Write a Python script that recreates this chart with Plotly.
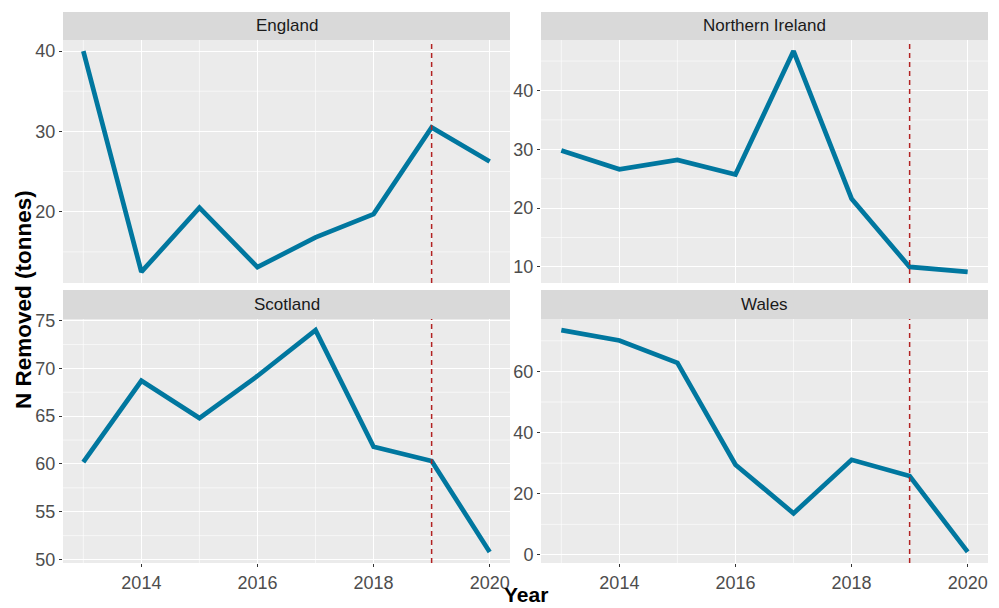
import plotly.graph_objects as go

years = [2013, 2014, 2015, 2016, 2017, 2018, 2019, 2020]
regions = ["England", "Northern Ireland", "Scotland", "Wales"]
england = [40.0, 12.5, 20.5, 13.1, 16.8, 19.7, 30.5, 26.25]
northern_ireland = [29.8, 26.6, 28.2, 25.7, 46.7, 21.6, 10.0, 9.15]
scotland = [60.2, 68.7, 64.8, 69.2, 74.0, 61.8, 60.3, 50.8]
wales = [73.5, 70.1, 62.8, 29.5, 13.6, 31.1, 25.8, 1.0]
series = [england, northern_ireland, scotland, wales]

y_major = [[20, 30, 40], [10, 20, 30, 40], [50, 55, 60, 65, 70, 75], [0, 20, 40, 60]]
y_minor = [[15, 25, 35], [15, 25, 35, 45], [52.5, 57.5, 62.5, 67.5, 72.5], [10, 30, 50, 70]]
x_major = [2014, 2016, 2018, 2020]
x_minor = [2013, 2015, 2017, 2019]
cutoff_year = 2019

W, H = 999, 608
cols = [(63, 510), (541, 988)]
rows = [(40, 283), (319, 563)]
strips = [(12, 40), (290, 319)]

FONT = "Liberation Sans, Arial, Helvetica, sans-serif"
fig = go.Figure()

xr = [min(years) - 0.05 * (max(years) - min(years)), max(years) + 0.05 * (max(years) - min(years))]

for i, (name, vals) in enumerate(zip(regions, series)):
    r, c = divmod(i, 2)
    ax = "" if i == 0 else str(i + 1)
    xa, ya = "x" + ax, "y" + ax
    fig.add_trace(go.Scatter(x=years, y=vals, mode="lines", xaxis=xa, yaxis=ya,
                             line=dict(color="#00779F", width=4.7), showlegend=False))
    lo, hi = min(vals), max(vals)
    pad = 0.05 * (hi - lo)
    l, rr = cols[c]
    t, b = rows[r]
    xdom = [l / W, rr / W]
    ydom = [1 - b / H, 1 - t / H]
    fig.layout["xaxis" + ax] = dict(
        domain=xdom, range=xr, anchor=ya, tickmode="array", tickvals=x_major,
        ticktext=[str(v) for v in x_major], automargin=False,
        showticklabels=(r == 1), ticks="outside" if r == 1 else "", ticklen=3,
        tickcolor="#333333", tickfont=dict(size=18, color="#4D4D4D", family=FONT),
        showgrid=True, gridcolor="white", gridwidth=1.3, zeroline=False, showline=False,
        fixedrange=True)
    fig.layout["yaxis" + ax] = dict(
        domain=ydom, range=[lo - pad, hi + pad], anchor=xa, tickmode="array",
        tickvals=y_major[i], ticktext=[str(v) for v in y_major[i]], automargin=False,
        ticks="outside", ticklen=3, tickcolor="#333333",
        tickfont=dict(size=18, color="#4D4D4D", family=FONT),
        showgrid=True, gridcolor="white", gridwidth=1.3, zeroline=False, showline=False,
        fixedrange=True)
    # minor gridlines
    for v in y_minor[i]:
        fig.add_shape(type="line", xref=xa + " domain", yref=ya, x0=0, x1=1, y0=v, y1=v,
                      line=dict(color="white", width=0.6), layer="below")
    for v in x_minor:
        fig.add_shape(type="line", xref=xa, yref=ya + " domain", x0=v, x1=v, y0=0, y1=1,
                      line=dict(color="white", width=0.6), layer="below")
    # strip
    st, sb = strips[r]
    fig.add_shape(type="rect", xref="paper", yref="paper", x0=xdom[0], x1=xdom[1],
                  y0=1 - sb / H, y1=1 - st / H, fillcolor="#D9D9D9", line_width=0, layer="below")
    fig.add_annotation(text=name, xref="paper", yref="paper", x=(xdom[0] + xdom[1]) / 2,
                       y=1 - (st + sb) / 2 / H, showarrow=False, xanchor="center", yanchor="middle",
                       font=dict(size=17, color="#1A1A1A", family=FONT))
    # dashed cutoff line
    fig.add_shape(type="line", xref=xa, yref=ya + " domain", x0=cutoff_year, x1=cutoff_year,
                  y0=0, y1=1, line=dict(color="#B22222", width=1.5, dash="5px,4px"), layer="above")

fig.add_annotation(text="<b>N Removed (tonnes)</b>", xref="paper", yref="paper",
                   x=23 / W, y=1 - 300 / H, textangle=-90, showarrow=False,
                   xanchor="center", yanchor="middle", font=dict(size=22.5, color="black", family=FONT))
fig.add_annotation(text="<b>Year</b>", xref="paper", yref="paper",
                   x=525.5 / W, y=1 - 594.5 / H, showarrow=False,
                   xanchor="center", yanchor="middle", font=dict(size=21, color="black", family=FONT))

fig.update_layout(width=W, height=H, margin=dict(l=0, r=0, t=0, b=0, pad=0, autoexpand=False),
                  showlegend=False, paper_bgcolor="white", plot_bgcolor="#EBEBEB")
fig.write_html("out.html", config={"displayModeBar": False})
